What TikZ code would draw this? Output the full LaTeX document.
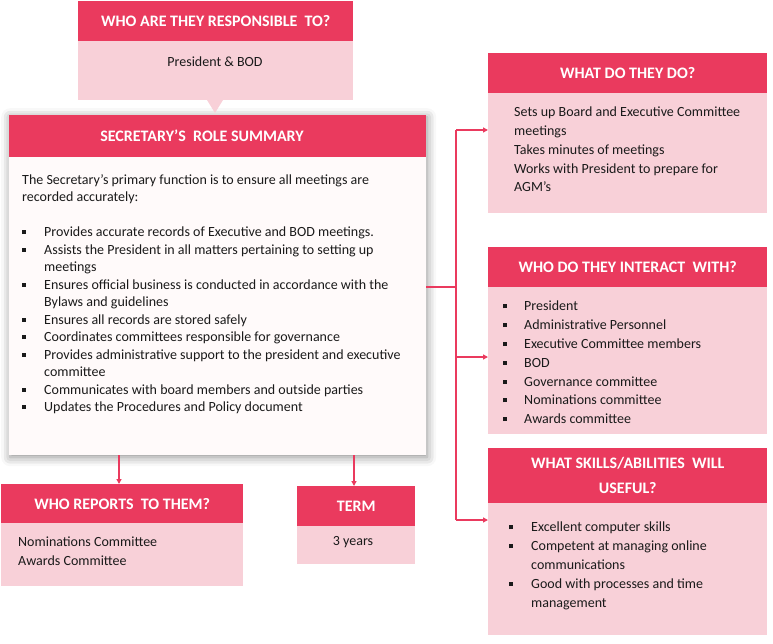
\documentclass[tikz,border=0pt]{standalone}
\usepackage{fontspec}
\setmainfont{Carlito}
\usetikzlibrary{arrows.meta,shadows.blur}
\definecolor{hred}{HTML}{EA3A5E}
\definecolor{bpink}{HTML}{F8D0D8}
\definecolor{mbody}{HTML}{FFFAFA}
\definecolor{txt}{HTML}{1A1A1A}
\newcommand{\bul}{\rule[2.5pt]{4pt}{4pt}}
\newcommand{\bi}[1]{\makebox[#1][l]{\bul}}
\begin{document}
\begin{tikzpicture}[x=1pt,y=-1pt,
  hfont/.style={text=white,font=\fontsize{16}{25}\selectfont\bfseries},
  hdr/.style={fill=hred,hfont,anchor=north west,inner sep=0pt,align=center},
  bod/.style={fill=bpink,anchor=north west,inner sep=0pt},
  txtb/.style={text=txt,anchor=north west,inner sep=0pt,align=left},
  conn/.style={draw=hred,line width=1.4pt},
  arr/.style={conn,-{Triangle[length=5pt,width=5pt]}}]
\useasboundingbox (0,0) rectangle (773,644);
% main box
\node[fill=mbody,anchor=north west,inner sep=0pt,minimum width=417pt,minimum height=340pt,
  blur shadow={shadow xshift=1pt,shadow yshift=-2pt,shadow blur radius=9pt,shadow opacity=45}] (main) at (9,115) {};
\node[hdr,minimum width=417pt,minimum height=42pt] (mainh) at (9,115) {};
\node[hfont,inner sep=0pt] (mainht) at (202,136) {SECRETARY'S\ \ ROLE SUMMARY};
\node[txtb,font=\fontsize{14}{17.5}\selectfont] (maint) at (22,174) {%
The Secretary's primary function is to ensure all meetings are\\
recorded accurately:\\[17.5pt]
\bi{22pt}Provides accurate records of Executive and BOD meetings.\\
\bi{22pt}Assists the President in all matters pertaining to setting up\\
\hspace*{22pt}meetings\\
\bi{22pt}Ensures official business is conducted in accordance with the\\
\hspace*{22pt}Bylaws and guidelines\\
\bi{22pt}Ensures all records are stored safely\\
\bi{22pt}Coordinates committees responsible for governance\\
\bi{22pt}Provides administrative support to the president and executive\\
\hspace*{22pt}committee\\
\bi{22pt}Communicates with board members and outside parties\\
\bi{22pt}Updates the Procedures and Policy document};
% top box
\node[bod,minimum width=275pt,minimum height=59pt] (topb) at (78,41) {};
\node[hdr,minimum width=275pt,minimum height=40pt] (toph) at (78,1) {WHO ARE THEY RESPONSIBLE\ \ TO?};
\node[text=txt,font=\fontsize{14}{16}\selectfont] (topt) at (215,62) {President \& BOD};
\fill[bpink] (207,100) -- (223,100) -- (215,113) -- cycle;
% right box 1
\node[bod,minimum width=279pt,minimum height=120pt] (b1b) at (488,93) {};
\node[hdr,minimum width=279pt,minimum height=40pt] (b1h) at (488,53) {WHAT DO THEY DO?};
\node[txtb,font=\fontsize{14}{18.7}\selectfont] (b1t) at (514,107) {%
Sets up Board and Executive Committee\\
meetings\\
Takes minutes of meetings\\
Works with President to prepare for\\
AGM's};
% right box 2
\node[bod,minimum width=279pt,minimum height=147pt] (b2b) at (488,287) {};
\node[hdr,minimum width=279pt,minimum height=40pt] (b2h) at (488,247) {WHO DO THEY INTERACT\ \ WITH?};
\node[txtb,font=\fontsize{14}{18.8}\selectfont] (b2t) at (503,301) {%
\bi{21pt}President\\
\bi{21pt}Administrative Personnel\\
\bi{21pt}Executive Committee members\\
\bi{21pt}BOD\\
\bi{21pt}Governance committee\\
\bi{21pt}Nominations committee\\
\bi{21pt}Awards committee};
% right box 3
\node[bod,minimum width=279pt,minimum height=132pt] (b3b) at (488,503) {};
\node[hdr,minimum width=279pt,minimum height=55pt] (b3h) at (488,448) {WHAT SKILLS/ABILITIES\ \ WILL\\USEFUL?};
\node[txtb,font=\fontsize{14}{18.8}\selectfont] (b3t) at (509,522) {%
\bi{22pt}Excellent computer skills\\
\bi{22pt}Competent at managing online\\
\hspace*{22pt}communications\\
\bi{22pt}Good with processes and time\\
\hspace*{22pt}management};
% bottom left
\node[bod,minimum width=242pt,minimum height=63pt] (repb) at (1,523) {};
\node[hdr,minimum width=242pt,minimum height=39pt] (reph) at (1,484) {WHO REPORTS\ \ TO THEM?};
\node[txtb,font=\fontsize{14}{18.5}\selectfont] (rept) at (18,537) {%
Nominations Committee\\
Awards Committee};
% term
\node[bod,minimum width=118pt,minimum height=38pt] (termb) at (297,526) {};
\node[hdr,minimum width=118pt,minimum height=40pt] (termh) at (297,486) {TERM};
\node[text=txt,font=\fontsize{14}{16}\selectfont] (termt) at (353,542) {3 years};
% connectors
\coordinate (j) at (456,287);
\coordinate (j1) at (456,130);
\coordinate (j2) at (456,357);
\coordinate (j3) at (456,520);
\draw[conn] (main.east |- j) -- (j);
\draw[conn] (j1) -- (j3);
\draw[arr] (j1) -- (b1b.west |- j1);
\draw[arr] (j2) -- (b2b.west |- j2);
\draw[arr] (j3) -- (b3b.west |- j3);
\draw[arr] (main.south -| 119,0) -- (reph.north -| 119,0);
\draw[arr] (main.south -| 354,0) -- (termh.north -| 354,0);
\end{tikzpicture}
\end{document}
